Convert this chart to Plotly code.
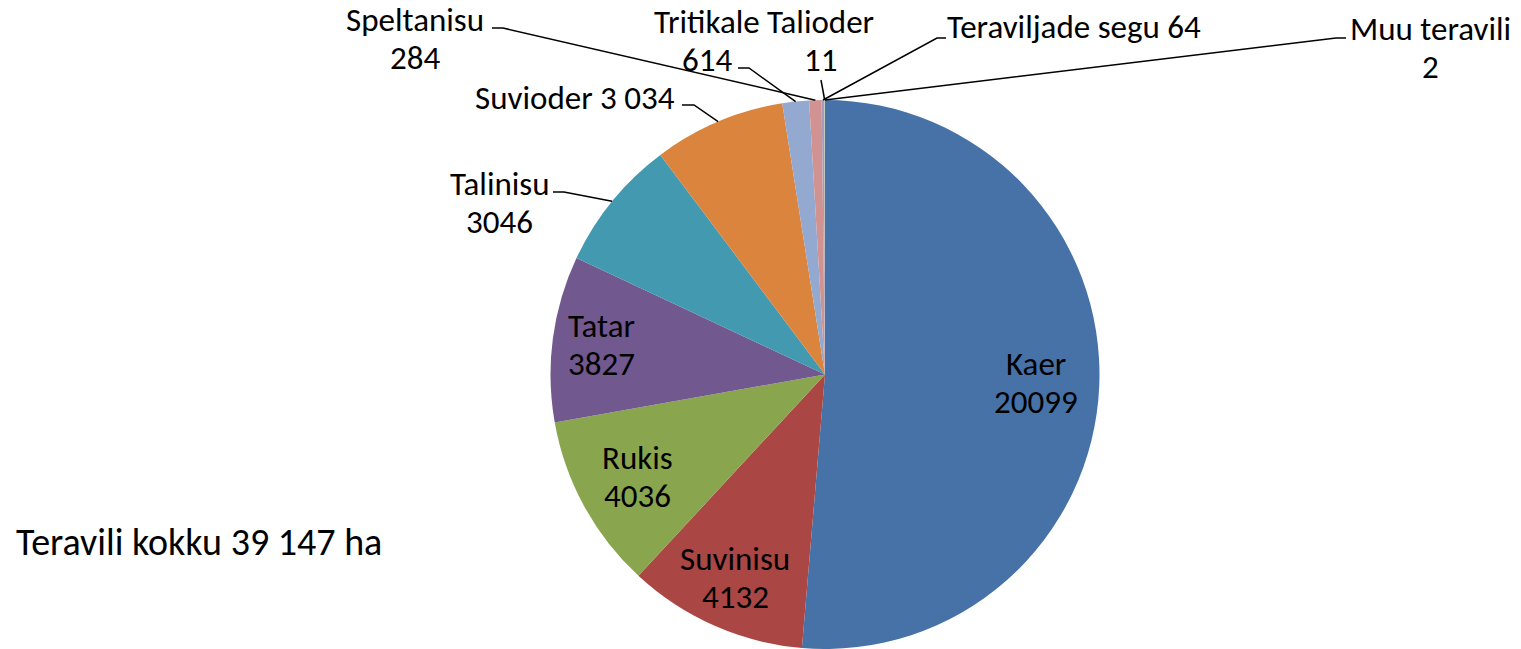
import math
import plotly.graph_objects as go

# ---- data ----
categories = ["Kaer", "Suvinisu", "Rukis", "Tatar", "Talinisu", "Suvioder",
              "Tritikale", "Speltanisu", "Teraviljade segu", "Talioder", "Muu teravili"]
values = [20099, 4132, 4036, 3827, 3046, 3034, 614, 284, 64, 11, 2]
value_labels = ["20099", "4132", "4036", "3827", "3046", "3 034", "614", "284", "64", "11", "2"]
total_label = "Teravili kokku 39 147 ha"

colors = ["#4672A7", "#AA4643", "#89A54E", "#71588F", "#4299B0", "#DB843D",
          "#93A9CF", "#D19392", "#A99BBD", "#B9CD96", "#91C3D5"]

W, H = 1521, 649
TOP = 100
CX, CY, R = 825, TOP + (H - TOP) / 2, (H - TOP) / 2
FONT = "Carlito, Lato, sans-serif"
FS = 33
LINE = 38


def px_x(px):
    return px / W


def px_y(py):
    return (H - py) / (H - TOP)


fig = go.Figure(go.Pie(
    labels=categories, values=values, sort=False, direction="clockwise",
    rotation=0, textinfo="none", hoverinfo="label+value",
    marker=dict(colors=colors, line=dict(width=0)),
    domain=dict(x=[(CX - R) / W, (CX + R) / W], y=[0, 1]),
    showlegend=False,
))

total = sum(values)
mids = []
acc = 0
for v in values:
    mids.append((acc + v / 2) / total * 2 * math.pi)
    acc += v


def polar(i, f):
    a = mids[i]
    return CX + f * R * math.sin(a), CY - f * R * math.cos(a)


annotations = []
shapes = []


def add_text(text, x, y, anchor="center", size=FS):
    annotations.append(dict(x=px_x(x), y=px_y(y), xref="paper", yref="paper",
                            text=text, showarrow=False, xanchor=anchor, yanchor="middle",
                            borderpad=0, font=dict(size=size)))


def add_block(lines, x, y, anchor="center"):
    n = len(lines)
    for k, t in enumerate(lines):
        add_text(t, x, y + (k - (n - 1) / 2) * LINE, anchor)


# inside labels
inside_r = [0.77, 0.81, 0.78, 0.82]
for i, f in enumerate(inside_r):
    x, y = polar(i, f)
    add_block([categories[i], value_labels[i]], x, y)

# outside labels: (index, lines, label x, label y, xanchor, hook points)
outside = [
    (4, ["Talinisu", "3046"], 500, 203, "center", [(553, 192), (564, 192)]),
    (5, ["Suvioder 3 034"], 676, 98, "right", [(682, 105), (694, 105)]),
    (6, ["Tritikale", "614"], 707, 41, "center", [(738, 68), (749, 68)]),
    (7, ["Speltanisu", "284"], 415, 39, "center", [(492, 28), (503, 28)]),
    (8, ["Teraviljade segu 64"], 946, 27, "left", [(946, 38), (937, 38)]),
    (9, ["Talioder", "11"], 820, 41, "center", [(821, 80)]),
    (10, ["Muu teravili", "2"], 1430, 48, "center", [(1346, 38), (1336, 38)]),
]
for i, lines, lx, ly, anchor, hook in outside:
    add_block(lines, lx, ly, anchor)
    ex, ey = polar(i, 1.0)
    pts = hook + [(ex, ey)]
    path = "M " + " L ".join(f"{px_x(px)},{px_y(py)}" for px, py in pts)
    shapes.append(dict(type="path", path=path, xref="paper", yref="paper",
                       line=dict(color="black", width=1.5)))

add_text(total_label, 15, 542, "left", size=38)

fig.update_layout(
    width=W, height=H,
    margin=dict(l=0, r=0, t=TOP, b=0),
    paper_bgcolor="white", plot_bgcolor="white",
    font=dict(family=FONT, size=FS, color="black"),
    annotations=annotations, shapes=shapes,
)

fig.write_html("out.html", config={"displayModeBar": False},
               post_script="document.body.style.margin='0';")
